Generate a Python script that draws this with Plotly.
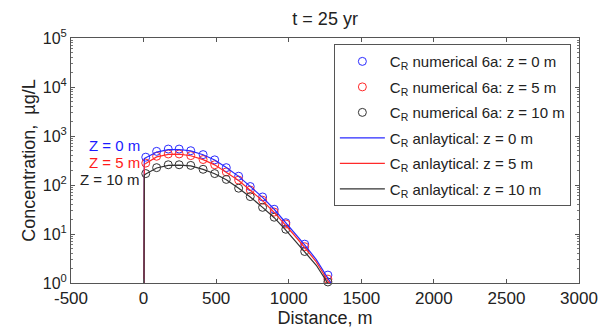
import plotly.graph_objects as go

# ---- data ----
x_num = [15, 90, 170, 245, 325, 410, 490, 570, 655, 735, 820, 900, 980, 1110, 1270]
num_z0 = [370, 486, 541, 541, 501, 417, 326, 226, 151, 93, 57, 32, 17, 6.2, 1.45]
num_z5 = [280, 386, 430, 430, 398, 331, 259, 185, 126, 79, 49, 28, 16, 5.5, 1.2]
num_z10 = [171, 226, 259, 259, 251, 209, 171, 130, 86, 58, 35, 22, 12.5, 4.4, 1.05]

x_ana = [0, 5, 15, 90, 170, 245, 325, 410, 490, 570, 655, 735, 820, 900, 980, 1045, 1110, 1190, 1270, 1300]
ana_z0 = [0.001, 345, 360, 470, 525, 530, 495, 415, 325, 228, 150, 93, 56, 32, 17, 10, 6.0, 3.0, 1.2, 0.9]
ana_z5 = [0.001, 265, 275, 375, 420, 425, 395, 330, 258, 183, 124, 78, 48, 27.5, 15, 9, 5.3, 2.7, 1.1, 0.85]
ana_z10 = [0.001, 160, 168, 222, 252, 255, 245, 208, 170, 128, 86, 57, 35, 21.5, 12, 7.2, 4.4, 2.3, 0.98, 0.75]

x_tickvals = [-500, 0, 500, 1000, 1500, 2000, 2500, 3000]
x_ticktext = ["-500", "0", "500", "1000", "1500", "2000", "2500", "3000"]
y_tickvals = [1, 10, 100, 1000, 10000, 100000]
y_ticktext = ["10<sup>0</sup>", "10<sup>1</sup>", "10<sup>2</sup>", "10<sup>3</sup>",
              "10<sup>4</sup>", "10<sup>5</sup>"]

labels_num = ["C<sub>R</sub> numerical 6a: z = 0 m", "C<sub>R</sub> numerical 6a: z = 5 m",
              "C<sub>R</sub> numerical 6a: z = 10 m"]
labels_ana = ["C<sub>R</sub> anlaytical: z = 0 m", "C<sub>R</sub> anlaytical: z = 5 m",
              "C<sub>R</sub> anlaytical: z = 10 m"]
colors = ["#2a2aff", "#ff2a2a", "#333333"]

FONT = "Liberation Sans, Arial, sans-serif"

fig = go.Figure()
for i, ys in enumerate([num_z0, num_z5, num_z10]):
    fig.add_trace(go.Scatter(
        x=x_num, y=ys, mode="markers", name=labels_num[i], legendgroup=f"n{i}",
        marker=dict(symbol="circle-open", size=8, color=colors[i], line=dict(width=1, color=colors[i])),
        cliponaxis=False))
for i, ys in enumerate([ana_z0, ana_z5, ana_z10]):
    fig.add_trace(go.Scatter(
        x=x_ana, y=ys, mode="lines", name=labels_ana[i], legendgroup=f"a{i}",
        line=dict(color=colors[i], width=1.2)))

ann = [("Z = 0 m", 2.80, "#1a1aff"), ("Z = 5 m", 2.46, "#ff1a1a"), ("Z = 10 m", 2.12, "#222222")]
for t, yy, c in ann:
    fig.add_annotation(x=-8, y=yy, xref="x", yref="y", text=t, showarrow=False,
                       xanchor="right", yanchor="middle", font=dict(size=15, color=c, family=FONT))

fig.update_layout(
    width=610, height=333,
    margin=dict(l=71, r=30, t=38, b=47),
    paper_bgcolor="white", plot_bgcolor="white",
    font=dict(family=FONT, size=16, color="#222"),
    title=dict(text="t = 25 yr", x=0.533, xanchor="center", y=0.943, yanchor="middle",
               font=dict(size=18, family=FONT, color="#222")),
    showlegend=True,
    legend=dict(x=0.984, y=0.975, xanchor="right", yanchor="top",
                bordercolor="#555", borderwidth=1, bgcolor="white",
                font=dict(size=15, family=FONT, color="#222"),
                tracegroupgap=3, itemwidth=45),
)
fig.update_xaxes(
    range=[-500, 3000], tickvals=x_tickvals, ticktext=x_ticktext,
    ticks="inside", ticklen=4, tickcolor="#555", showline=True, linecolor="#555", linewidth=1,
    mirror="ticks", showgrid=False, zeroline=False,
    title=dict(text="Distance, m", font=dict(size=18, family=FONT), standoff=0),
    tickfont=dict(size=17, family=FONT))
fig.update_yaxes(
    type="log", range=[0, 5], tickvals=y_tickvals, ticktext=y_ticktext,
    ticks="inside", ticklen=4, tickcolor="#555", showline=True, linecolor="#555", linewidth=1,
    mirror="ticks", showgrid=False, zeroline=False,
    minor=dict(ticks="inside", ticklen=2, tickcolor="#777", dtick="D1", showgrid=False),
    title=dict(text="Concentration,  µg/L", font=dict(size=18, family=FONT), standoff=2),
    tickfont=dict(size=16, family=FONT))

fig.write_html("out.html")
